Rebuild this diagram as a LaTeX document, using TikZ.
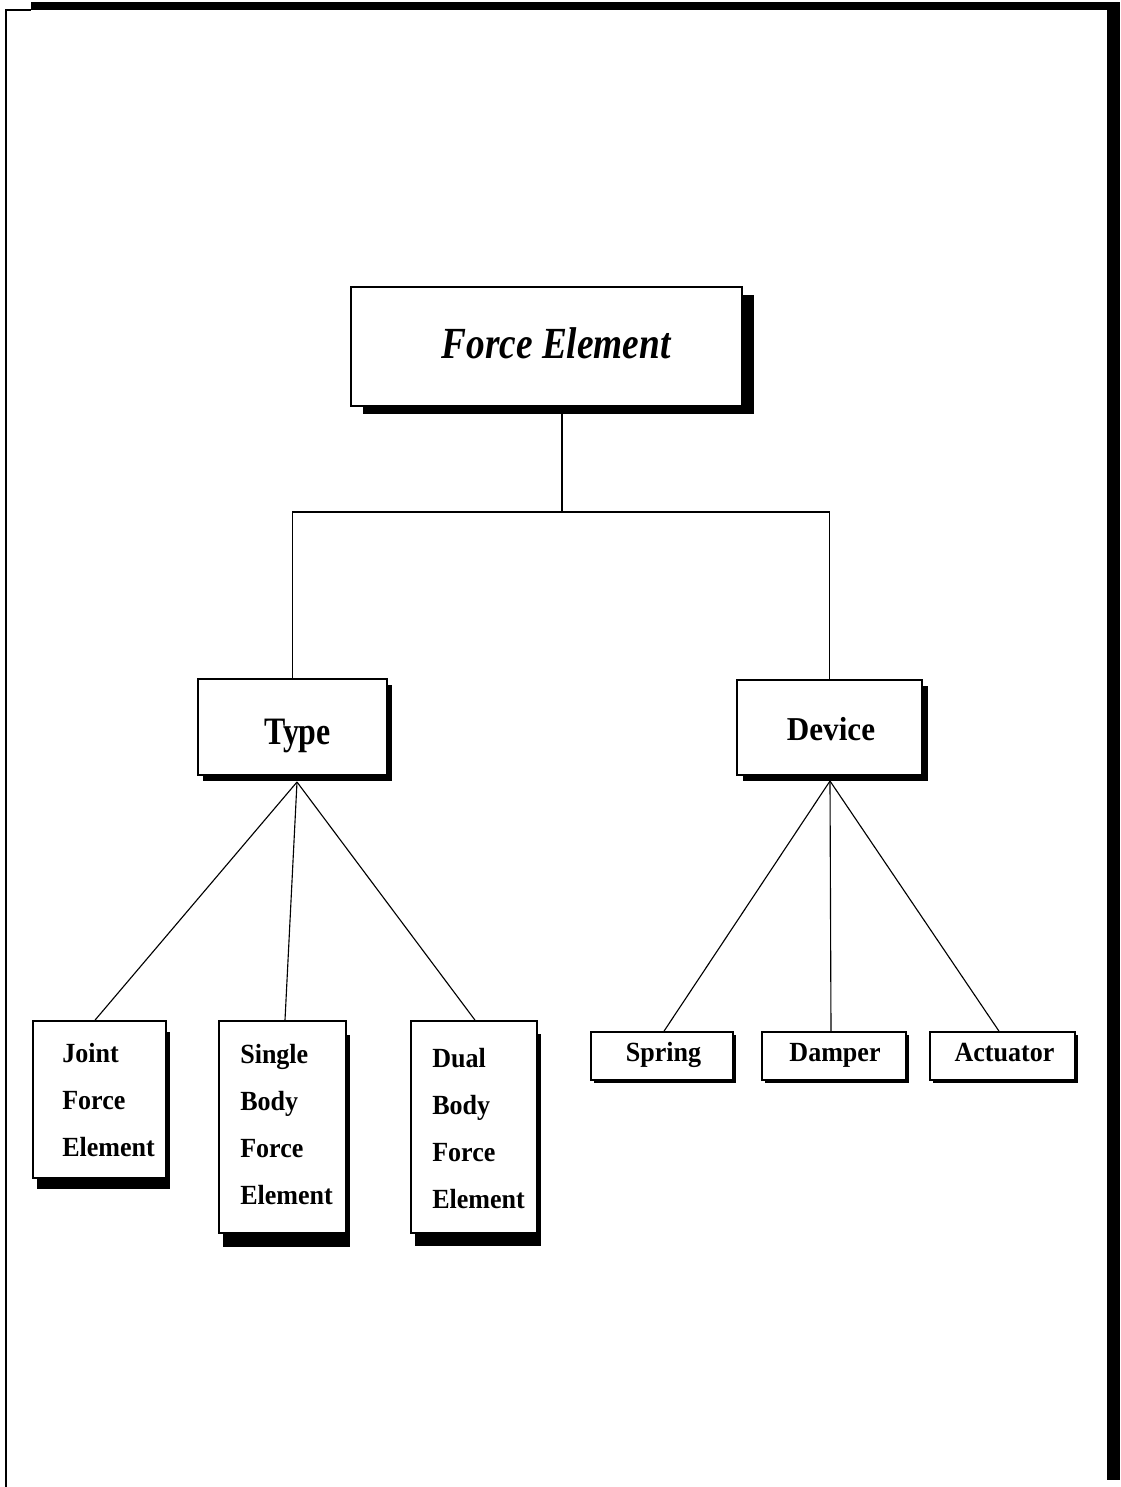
\documentclass[tikz,border=0pt]{standalone}
\usepackage{fontspec}
\setmainfont{Liberation Serif}
\usetikzlibrary{calc,shadows}

\newcommand{\narrowtxt}[1]{\scalebox{0.94}[1]{#1}}

\tikzset{
  box/.style={draw=black, line width=1.2pt, fill=white, rectangle, inner sep=0pt},
  shad/.style 2 args={drop shadow={shadow xshift=#1, shadow yshift=#2, fill=black, opacity=1}},
  link/.style={draw=black, line width=0.8pt},
  lbl/.style={inner sep=0pt, text=black},
  small/.style={lbl, font=\bfseries\fontsize{19.7}{33.3}\selectfont},
}

\begin{document}
\begin{tikzpicture}[x=0.025cm, y=0.025cm]
\useasboundingbox (0,0) rectangle (1120,-1487);

% page frame
\fill[black] (31,-2) rectangle (1120,-10);
\draw[line width=1.4pt] (5,-10) -- (31,-10);
\draw[line width=1.4pt] (6,-10) -- (6,-1487);
\fill[black] (1107,-2) rectangle (1120,-1480);

% boxes
\node[box, shad={0.3cm}{-0.2cm}, minimum width=9.775cm, minimum height=2.975cm] (force) at (546.5,-346.5) {};
\node[box, shad={0.125cm}{-0.15cm}, minimum width=4.725cm, minimum height=2.4cm] (type) at (292.5,-727) {};
\node[box, shad={0.15cm}{-0.15cm}, minimum width=4.625cm, minimum height=2.375cm] (device) at (829.5,-727.5) {};
\node[box, shad={0.1cm}{-0.275cm}, minimum width=3.325cm, minimum height=3.925cm] (joint) at (99.5,-1099.5) {};
\node[box, shad={0.1cm}{-0.35cm}, minimum width=3.175cm, minimum height=5.3cm] (single) at (282.5,-1127) {};
\node[box, shad={0.1cm}{-0.325cm}, minimum width=3.15cm, minimum height=5.3cm] (dual) at (474,-1127) {};
\node[box, shad={0.075cm}{-0.075cm}, minimum width=3.55cm, minimum height=1.2cm] (spring) at (662,-1056) {};
\node[box, shad={0.075cm}{-0.075cm}, minimum width=3.6cm, minimum height=1.2cm] (damper) at (834,-1056) {};
\node[box, shad={0.075cm}{-0.075cm}, minimum width=3.625cm, minimum height=1.2cm] (actuator) at (1002.5,-1056) {};

% labels
\node[lbl, anchor=base, font=\bfseries\itshape\fontsize{27.5}{33}\selectfont] (forcetxt) at (556,-358) {\scalebox{0.965}[1.15]{Force Element}};
\node[lbl, anchor=base, font=\bfseries\fontsize{24}{30}\selectfont] (typetxt) at (297.5,-744) {\scalebox{0.945}[1.15]{Type}};
\node[lbl, anchor=base, font=\bfseries\fontsize{22.6}{28}\selectfont] (devicetxt) at (831,-740) {\scalebox{0.98}[1.05]{Device}};
% multi-line labels are anchored on the baseline of their last line
\node[small, anchor=base west, align=left] (jointtxt) at (62,-1156) {\narrowtxt{Joint}\\\narrowtxt{Force}\\\narrowtxt{Element}};
\node[small, anchor=base west, align=left] (singletxt) at (240,-1204) {\narrowtxt{Single}\\\narrowtxt{Body}\\\narrowtxt{Force}\\\narrowtxt{Element}};
\node[small, anchor=base west, align=left] (dualtxt) at (432,-1208) {\narrowtxt{Dual}\\\narrowtxt{Body}\\\narrowtxt{Force}\\\narrowtxt{Element}};
\node[small, anchor=base] (springtxt) at (663.5,-1061) {\narrowtxt{Spring}};
\node[small, anchor=base] (dampertxt) at (835,-1061) {\narrowtxt{Damper}};
\node[small, anchor=base] (actuatortxt) at (1004.5,-1061) {\narrowtxt{Actuator}};

% connectors
\coordinate (fj) at (562,-512);
\coordinate (ta) at (297,-782);
\coordinate (da) at (830,-781);
\draw[link] (fj |- 0,-413) -- (fj);
\draw[link] (type.north) |- (fj) -| (device.north);
\draw[link] (ta) -- ($(joint.north)+(-4.5,0)$);
\draw[link] (ta) -- ($(single.north)+(2.5,0)$);
\draw[link] (ta) -- ($(dual.north)+(1,0)$);
\draw[link] (da) -- ($(spring.north)+(2,0)$);
\draw[link] (da) -- ($(damper.north)+(-3,0)$);
\draw[link] (da) -- ($(actuator.north)+(-3.5,0)$);
\end{tikzpicture}
\end{document}
